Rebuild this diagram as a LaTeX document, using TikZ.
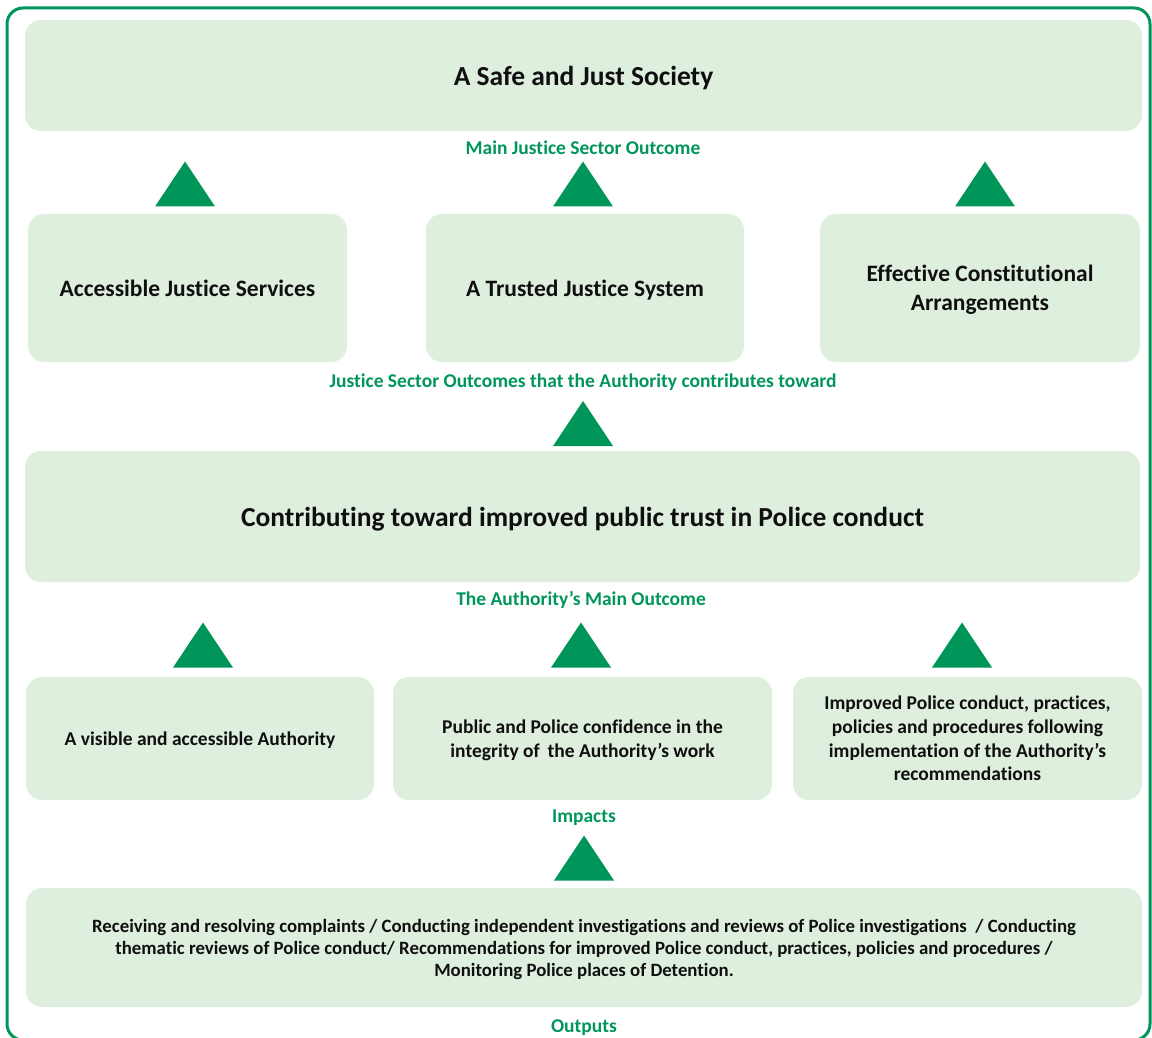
\documentclass[tikz,border=0pt]{standalone}
\usepackage{fontspec}
\setmainfont{Carlito}[Ligatures=NoCommon]
\usetikzlibrary{positioning}
\definecolor{outgreen}{RGB}{0,150,90}
\definecolor{boxfill}{RGB}{222,239,222}
\definecolor{inkdark}{RGB}{15,15,15}

\begin{document}
\begin{tikzpicture}[x=1pt, y=-1pt, font=\bfseries,
      box/.style={rectangle, rounded corners=16pt, fill=boxfill, text=inkdark,
                  align=center, inner sep=0pt, text depth=0pt},
      big/.style={font=\fontsize{27.5}{32}\selectfont\bfseries},
      mid/.style={font=\fontsize{23.5}{29}\selectfont\bfseries},
      small/.style={font=\fontsize{19.5}{23.7}\selectfont\bfseries},
      tiny/.style={font=\fontsize{18.8}{22}\selectfont\bfseries},
      lbl/.style={text=outgreen, font=\fontsize{19.5}{22}\selectfont\bfseries},
      tri/.pic={\fill[outgreen] (-30,22) -- (0,-23) -- (30,22) -- cycle;}]
    \useasboundingbox (0,0) rectangle (1152,1038);
    \draw[outgreen, line width=3pt, rounded corners=16pt] (7,8) rectangle (1150,1040);

    \node[box, big, minimum width=1117pt, minimum height=111pt] (society) at (583.5,75.5) {A Safe and Just Society};
    \node[lbl] (mainlbl) at (583,147.5) {Main Justice Sector Outcome};

    \node[box, mid, minimum width=319pt, minimum height=148pt] (access)  at (187.5,288) {Accessible Justice Services};
    \node[box, mid, minimum width=318pt, minimum height=148pt] (trusted) at (585,288) {A Trusted Justice System};
    \node[box, mid, minimum width=320pt, minimum height=148pt] (consti)  at (980,288) {Effective Constitutional\\Arrangements};
    \node[lbl] (sectorlbl) at (583,382) {Justice Sector Outcomes that the Authority contributes toward};
    \pic at (185,184.5) {tri};
    \pic at (583,184.5) {tri};
    \pic at (985,184.5) {tri};

    \node[box, big, minimum width=1115pt, minimum height=131pt] (trust) at (582.5,516.5) {Contributing toward improved public trust in Police conduct};
    \node[lbl] (authlbl) at (581,600) {The Authority’s Main Outcome};
    \pic at (583,424) {tri};

    \node[box, small, minimum width=348pt, minimum height=123pt] (visible)  at (200,738.5) {A visible and accessible Authority};
    \node[box, small, minimum width=379pt, minimum height=123pt] (confid)   at (582.5,738.5) {Public and Police confidence in the\\integrity of\, the Authority’s work};
    \node[box, small, minimum width=349pt, minimum height=123pt] (improved) at (967.5,738.5) {Improved Police conduct, practices,\\policies and procedures following\\implementation of the Authority’s\\recommendations};
    \node[lbl] (impactlbl) at (584,817.5) {Impacts};
    \pic at (203,645.5) {tri};
    \pic at (581,645.5) {tri};
    \pic at (962,645.5) {tri};

    \node[box, tiny, minimum width=1116pt, minimum height=119pt] (outputs) at (584,947.5)
      {Receiving and resolving complaints / Conducting independent investigations and reviews of Police investigations\ \ / Conducting\\
       thematic reviews of Police conduct/ Recommendations for improved Police conduct, practices, policies and procedures /\\
       Monitoring Police places of Detention.};
    \node[lbl] (outlbl) at (584,1027.5) {Outputs};
    \pic at (584,858.5) {tri};
  \end{tikzpicture}
\end{document}
